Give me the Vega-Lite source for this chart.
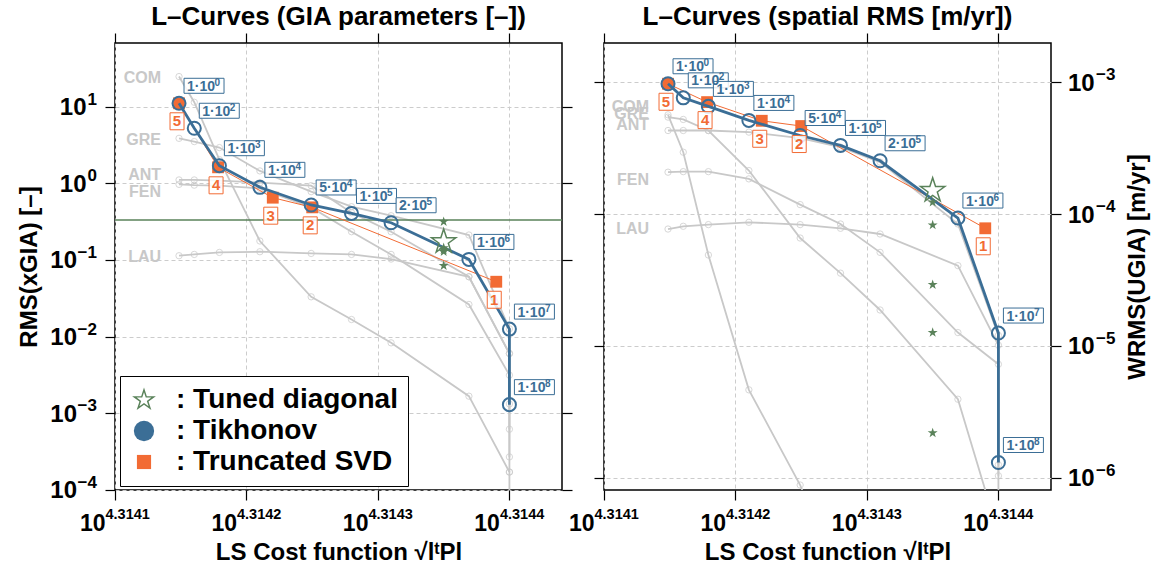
{
  "$schema": "https://vega.github.io/schema/vega-lite/v6.json",
  "padding": {"left": 16, "top": 3, "right": 5, "bottom": 3},
  "background": "white",
  "spacing": 42,
  "bounds": "flush",
  "config": {
    "font": "Liberation Sans",
    "view": {"stroke": "black", "strokeWidth": 1.5},
    "axis": {
      "domain": false, "labels": false,
      "tickColor": "black", "tickSize": 10, "tickWidth": 1.2,
      "titleFont": "Liberation Sans", "titleFontWeight": "bold", "titleColor": "black",
      "gridColor": "#cccccc", "gridDash": [4, 3], "gridWidth": 1
    },
    "text": {"font": "Liberation Sans", "fontWeight": "bold"},
    "title": {"fontSize": 26, "fontWeight": "bold", "font": "Liberation Sans", "color": "black", "anchor": "middle"}
  },
  "datasets": {
    "xticks": [
      {"v": 4.3141, "e": "4.3141"}, {"v": 4.3142, "e": "4.3142"}, {"v": 4.3143, "e": "4.3143"}, {"v": 4.3144, "e": "4.3144"}
    ],
    "yticksL": [
      {"v": 10, "e": "1"}, {"v": 1, "e": "0"}, {"v": 0.1, "e": "−1"}, {"v": 0.01, "e": "−2"}, {"v": 0.001, "e": "−3"}, {"v": 0.0001, "e": "−4"}
    ],
    "yticksR": [
      {"v": 0.001, "e": "−3"}, {"v": 0.0001, "e": "−4"}, {"v": 0.00001, "e": "−5"}, {"v": 0.000001, "e": "−6"}
    ],
    "tik": [
      {"panel": "L", "i": 1, "base": "1·10", "e": "0", "x": 4.3141487, "y": 11.1},
      {"panel": "L", "i": 2, "base": "1·10", "e": "2", "x": 4.3141603, "y": 5.24},
      {"panel": "L", "i": 3, "base": "1·10", "e": "3", "x": 4.3141794, "y": 1.70},
      {"panel": "L", "i": 4, "base": "1·10", "e": "4", "x": 4.3142102, "y": 0.887},
      {"panel": "L", "i": 5, "base": "5·10", "e": "4", "x": 4.3142492, "y": 0.522},
      {"panel": "L", "i": 6, "base": "1·10", "e": "5", "x": 4.3142799, "y": 0.405},
      {"panel": "L", "i": 7, "base": "2·10", "e": "5", "x": 4.3143100, "y": 0.306},
      {"panel": "L", "i": 8, "base": "1·10", "e": "6", "x": 4.3143692, "y": 0.1016},
      {"panel": "L", "i": 9, "base": "1·10", "e": "7", "x": 4.3144000, "y": 0.0125},
      {"panel": "L", "i": 10, "base": "1·10", "e": "8", "x": 4.3144000, "y": 0.00129},
      {"panel": "R", "i": 1, "base": "1·10", "e": "0", "x": 4.3141487, "y": 9.76e-4},
      {"panel": "R", "i": 2, "base": "1·10", "e": "2", "x": 4.3141603, "y": 7.63e-4},
      {"panel": "R", "i": 3, "base": "1·10", "e": "3", "x": 4.3141794, "y": 6.57e-4},
      {"panel": "R", "i": 4, "base": "1·10", "e": "4", "x": 4.3142102, "y": 5.14e-4},
      {"panel": "R", "i": 5, "base": "5·10", "e": "4", "x": 4.3142492, "y": 3.95e-4},
      {"panel": "R", "i": 6, "base": "1·10", "e": "5", "x": 4.3142799, "y": 3.32e-4},
      {"panel": "R", "i": 7, "base": "2·10", "e": "5", "x": 4.3143100, "y": 2.54e-4},
      {"panel": "R", "i": 8, "base": "1·10", "e": "6", "x": 4.3143692, "y": 9.33e-5},
      {"panel": "R", "i": 9, "base": "1·10", "e": "7", "x": 4.3144000, "y": 1.25e-5},
      {"panel": "R", "i": 10, "base": "1·10", "e": "8", "x": 4.3144000, "y": 1.30e-6}
    ],
    "tsvd": [
      {"panel": "L", "k": "5", "x": 4.3141487, "y": 11.1},
      {"panel": "L", "k": "4", "x": 4.3141784, "y": 1.62},
      {"panel": "L", "k": "3", "x": 4.3142200, "y": 0.650},
      {"panel": "L", "k": "2", "x": 4.3142500, "y": 0.486},
      {"panel": "L", "k": "1", "x": 4.3143900, "y": 0.0519},
      {"panel": "R", "k": "5", "x": 4.3141487, "y": 9.76e-4},
      {"panel": "R", "k": "4", "x": 4.3141784, "y": 7.08e-4},
      {"panel": "R", "k": "3", "x": 4.3142200, "y": 5.11e-4},
      {"panel": "R", "k": "2", "x": 4.3142500, "y": 4.66e-4},
      {"panel": "R", "k": "1", "x": 4.3143900, "y": 7.80e-5}
    ],
    "stars": [
      {"panel": "L", "kind": "total", "x": 4.31435, "y": 0.173},
      {"panel": "L", "kind": "region", "x": 4.31435, "y": 0.316},
      {"panel": "L", "kind": "region", "x": 4.31435, "y": 0.144},
      {"panel": "L", "kind": "region", "x": 4.31435, "y": 0.136},
      {"panel": "L", "kind": "region", "x": 4.31435, "y": 0.128},
      {"panel": "L", "kind": "region", "x": 4.31435, "y": 0.084},
      {"panel": "R", "kind": "total", "x": 4.31435, "y": 1.51e-4},
      {"panel": "R", "kind": "region", "x": 4.31435, "y": 1.23e-4},
      {"panel": "R", "kind": "region", "x": 4.31435, "y": 8.26e-5},
      {"panel": "R", "kind": "region", "x": 4.31435, "y": 2.91e-5},
      {"panel": "R", "kind": "region", "x": 4.31435, "y": 1.26e-5},
      {"panel": "R", "kind": "region", "x": 4.31435, "y": 2.18e-6}
    ],
    "regionLabels": [
      {"panel": "L", "region": "COM", "x": 4.3141487, "y": 24.1},
      {"panel": "L", "region": "GRE", "x": 4.3141487, "y": 3.65},
      {"panel": "L", "region": "ANT", "x": 4.3141487, "y": 1.288},
      {"panel": "L", "region": "FEN", "x": 4.3141487, "y": 0.779},
      {"panel": "L", "region": "LAU", "x": 4.3141487, "y": 0.110},
      {"panel": "R", "region": "COM", "x": 4.3141487, "y": 6.49e-4},
      {"panel": "R", "region": "GRE", "x": 4.3141487, "y": 5.74e-4},
      {"panel": "R", "region": "ANT", "x": 4.3141487, "y": 4.76e-4},
      {"panel": "R", "region": "FEN", "x": 4.3141487, "y": 1.83e-4},
      {"panel": "R", "region": "LAU", "x": 4.3141487, "y": 7.70e-5}
    ],
    "threshold": [{"y": 0.332}],
    "methods": [{"method": "Tuned diagonal"}, {"method": "Tikhonov"}, {"method": "Truncated SVD"}],
    "regions": [
      {"panel": "L", "region": "COM", "i": 1, "x": 4.3141487, "y": 24.8},
      {"panel": "L", "region": "COM", "i": 2, "x": 4.3141603, "y": 11.45},
      {"panel": "L", "region": "COM", "i": 3, "x": 4.3141794, "y": 2.04},
      {"panel": "L", "region": "COM", "i": 4, "x": 4.3142102, "y": 0.1767},
      {"panel": "L", "region": "COM", "i": 5, "x": 4.3142492, "y": 0.0330},
      {"panel": "L", "region": "COM", "i": 6, "x": 4.3142799, "y": 0.01668},
      {"panel": "L", "region": "COM", "i": 7, "x": 4.3143100, "y": 0.00827},
      {"panel": "L", "region": "COM", "i": 8, "x": 4.3143692, "y": 0.001663},
      {"panel": "L", "region": "COM", "i": 9, "x": 4.3144000, "y": 1.70e-4},
      {"panel": "L", "region": "COM", "i": 10, "x": 4.3144000, "y": 2.07e-5},
      {"panel": "L", "region": "GRE", "i": 1, "x": 4.3141487, "y": 3.87},
      {"panel": "L", "region": "GRE", "i": 2, "x": 4.3141603, "y": 3.51},
      {"panel": "L", "region": "GRE", "i": 3, "x": 4.3141794, "y": 2.93},
      {"panel": "L", "region": "GRE", "i": 4, "x": 4.3142102, "y": 1.453},
      {"panel": "L", "region": "GRE", "i": 5, "x": 4.3142492, "y": 0.779},
      {"panel": "L", "region": "GRE", "i": 6, "x": 4.3142799, "y": 0.496},
      {"panel": "L", "region": "GRE", "i": 7, "x": 4.3143100, "y": 0.378},
      {"panel": "L", "region": "GRE", "i": 8, "x": 4.3143692, "y": 0.2116},
      {"panel": "L", "region": "GRE", "i": 9, "x": 4.3144000, "y": 0.01261},
      {"panel": "L", "region": "GRE", "i": 10, "x": 4.3144000, "y": 0.001318},
      {"panel": "L", "region": "ANT", "i": 1, "x": 4.3141487, "y": 1.108},
      {"panel": "L", "region": "ANT", "i": 2, "x": 4.3141603, "y": 1.108},
      {"panel": "L", "region": "ANT", "i": 3, "x": 4.3141794, "y": 1.085},
      {"panel": "L", "region": "ANT", "i": 4, "x": 4.3142102, "y": 1.021},
      {"panel": "L", "region": "ANT", "i": 5, "x": 4.3142492, "y": 0.933},
      {"panel": "L", "region": "ANT", "i": 6, "x": 4.3142799, "y": 0.414},
      {"panel": "L", "region": "ANT", "i": 7, "x": 4.3143100, "y": 0.2336},
      {"panel": "L", "region": "ANT", "i": 8, "x": 4.3143692, "y": 0.0603},
      {"panel": "L", "region": "ANT", "i": 9, "x": 4.3144000, "y": 0.006},
      {"panel": "L", "region": "ANT", "i": 10, "x": 4.3144000, "y": 2.68e-4},
      {"panel": "L", "region": "FEN", "i": 1, "x": 4.3141487, "y": 0.970},
      {"panel": "L", "region": "FEN", "i": 2, "x": 4.3141603, "y": 0.947},
      {"panel": "L", "region": "FEN", "i": 3, "x": 4.3141794, "y": 0.933},
      {"panel": "L", "region": "FEN", "i": 4, "x": 4.3142102, "y": 0.860},
      {"panel": "L", "region": "FEN", "i": 5, "x": 4.3142492, "y": 0.4857},
      {"panel": "L", "region": "FEN", "i": 6, "x": 4.3142799, "y": 0.2336},
      {"panel": "L", "region": "FEN", "i": 7, "x": 4.3143100, "y": 0.118},
      {"panel": "L", "region": "FEN", "i": 8, "x": 4.3143692, "y": 0.0262},
      {"panel": "L", "region": "FEN", "i": 9, "x": 4.3144000, "y": 0.00313},
      {"panel": "L", "region": "FEN", "i": 10, "x": 4.3144000, "y": 1.70e-4},
      {"panel": "L", "region": "LAU", "i": 1, "x": 4.3141487, "y": 0.1135},
      {"panel": "L", "region": "LAU", "i": 2, "x": 4.3141603, "y": 0.118},
      {"panel": "L", "region": "LAU", "i": 3, "x": 4.3141794, "y": 0.1253},
      {"panel": "L", "region": "LAU", "i": 4, "x": 4.3142102, "y": 0.128},
      {"panel": "L", "region": "LAU", "i": 5, "x": 4.3142492, "y": 0.1216},
      {"panel": "L", "region": "LAU", "i": 6, "x": 4.3142799, "y": 0.118},
      {"panel": "L", "region": "LAU", "i": 7, "x": 4.3143100, "y": 0.1027},
      {"panel": "L", "region": "LAU", "i": 8, "x": 4.3143692, "y": 0.0603},
      {"panel": "L", "region": "LAU", "i": 9, "x": 4.3144000, "y": 0.006},
      {"panel": "L", "region": "LAU", "i": 10, "x": 4.3144000, "y": 6.16e-4},
      {"panel": "R", "region": "COM", "i": 1, "x": 4.3141487, "y": 5.67e-4},
      {"panel": "R", "region": "COM", "i": 2, "x": 4.3141603, "y": 2.95e-4},
      {"panel": "R", "region": "COM", "i": 3, "x": 4.3141794, "y": 4.89e-5},
      {"panel": "R", "region": "COM", "i": 4, "x": 4.3142102, "y": 4.63e-6},
      {"panel": "R", "region": "COM", "i": 5, "x": 4.3142492, "y": 8.77e-7},
      {"panel": "R", "region": "COM", "i": 6, "x": 4.3142799, "y": 1.5e-7},
      {"panel": "R", "region": "COM", "i": 7, "x": 4.3143100, "y": 5.0e-8},
      {"panel": "R", "region": "COM", "i": 8, "x": 4.3143692, "y": 1.0e-8},
      {"panel": "R", "region": "COM", "i": 9, "x": 4.3144000, "y": 2.0e-9},
      {"panel": "R", "region": "COM", "i": 10, "x": 4.3144000, "y": 1.0e-10},
      {"panel": "R", "region": "GRE", "i": 1, "x": 4.3141487, "y": 5.45e-4},
      {"panel": "R", "region": "GRE", "i": 2, "x": 4.3141603, "y": 5.23e-4},
      {"panel": "R", "region": "GRE", "i": 3, "x": 4.3141794, "y": 4.31e-4},
      {"panel": "R", "region": "GRE", "i": 4, "x": 4.3142102, "y": 2.14e-4},
      {"panel": "R", "region": "GRE", "i": 5, "x": 4.3142492, "y": 6.58e-5},
      {"panel": "R", "region": "GRE", "i": 6, "x": 4.3142799, "y": 3.56e-5},
      {"panel": "R", "region": "GRE", "i": 7, "x": 4.3143100, "y": 1.87e-5},
      {"panel": "R", "region": "GRE", "i": 8, "x": 4.3143692, "y": 3.93e-6},
      {"panel": "R", "region": "GRE", "i": 9, "x": 4.3144000, "y": 3.74e-7},
      {"panel": "R", "region": "GRE", "i": 10, "x": 4.3144000, "y": 4.0e-8},
      {"panel": "R", "region": "ANT", "i": 1, "x": 4.3141487, "y": 4.31e-4},
      {"panel": "R", "region": "ANT", "i": 2, "x": 4.3141603, "y": 4.31e-4},
      {"panel": "R", "region": "ANT", "i": 3, "x": 4.3141794, "y": 4.31e-4},
      {"panel": "R", "region": "ANT", "i": 4, "x": 4.3142102, "y": 4.19e-4},
      {"panel": "R", "region": "ANT", "i": 5, "x": 4.3142492, "y": 3.77e-4},
      {"panel": "R", "region": "ANT", "i": 6, "x": 4.3142799, "y": 3.22e-4},
      {"panel": "R", "region": "ANT", "i": 7, "x": 4.3143100, "y": 2.48e-4},
      {"panel": "R", "region": "ANT", "i": 8, "x": 4.3143692, "y": 8.41e-5},
      {"panel": "R", "region": "ANT", "i": 9, "x": 4.3144000, "y": 1.20e-5},
      {"panel": "R", "region": "ANT", "i": 10, "x": 4.3144000, "y": 1.25e-6},
      {"panel": "R", "region": "FEN", "i": 1, "x": 4.3141487, "y": 2.08e-4},
      {"panel": "R", "region": "FEN", "i": 2, "x": 4.3141603, "y": 2.10e-4},
      {"panel": "R", "region": "FEN", "i": 3, "x": 4.3141794, "y": 2.10e-4},
      {"panel": "R", "region": "FEN", "i": 4, "x": 4.3142102, "y": 1.85e-4},
      {"panel": "R", "region": "FEN", "i": 5, "x": 4.3142492, "y": 1.18e-4},
      {"panel": "R", "region": "FEN", "i": 6, "x": 4.3142799, "y": 8.41e-5},
      {"panel": "R", "region": "FEN", "i": 7, "x": 4.3143100, "y": 5.12e-5},
      {"panel": "R", "region": "FEN", "i": 8, "x": 4.3143692, "y": 1.26e-5},
      {"panel": "R", "region": "FEN", "i": 9, "x": 4.3144000, "y": 7.24e-6},
      {"panel": "R", "region": "FEN", "i": 10, "x": 4.3144000, "y": 2.0e-7},
      {"panel": "R", "region": "LAU", "i": 1, "x": 4.3141487, "y": 7.70e-5},
      {"panel": "R", "region": "LAU", "i": 2, "x": 4.3141603, "y": 8.08e-5},
      {"panel": "R", "region": "LAU", "i": 3, "x": 4.3141794, "y": 8.32e-5},
      {"panel": "R", "region": "LAU", "i": 4, "x": 4.3142102, "y": 8.66e-5},
      {"panel": "R", "region": "LAU", "i": 5, "x": 4.3142492, "y": 8.32e-5},
      {"panel": "R", "region": "LAU", "i": 6, "x": 4.3142799, "y": 7.80e-5},
      {"panel": "R", "region": "LAU", "i": 7, "x": 4.3143100, "y": 7.06e-5},
      {"panel": "R", "region": "LAU", "i": 8, "x": 4.3143692, "y": 4.06e-5},
      {"panel": "R", "region": "LAU", "i": 9, "x": 4.3144000, "y": 1.01e-5},
      {"panel": "R", "region": "LAU", "i": 10, "x": 4.3144000, "y": 1.03e-6}
    ]
  },
  "hconcat": [
    {
      "width": 447,
      "height": 447,
      "title": {"text": "L–Curves (GIA parameters [–])", "offset": 2},
      "resolve": {"axis": {"x": "independent", "y": "independent"}},
      "layer": [
        {
          "data": {"name": "regions"},
          "transform": [{"filter": "datum.panel === 'L'"}],
          "mark": {"type": "line", "color": "#c8c8c8", "strokeWidth": 1.8, "clip": true},
          "encoding": {
            "x": {"field": "x", "type": "quantitative", "scale": {"domain": [4.3141, 4.31444], "nice": false, "zero": false},
              "axis": {"orient": "bottom", "values": [4.3141, 4.3142, 4.3143, 4.3144], "grid": true,
                "title": "LS Cost function √lᵗPl", "titleFontSize": 24, "titlePadding": 40}},
            "y": {"field": "y", "type": "quantitative", "scale": {"type": "log", "domain": [0.0000991, 68], "nice": false},
              "axis": {"orient": "left", "values": [10, 1, 0.1, 0.01, 0.001, 0.0001], "grid": true,
                "title": "RMS(xGIA) [–]", "titleFontSize": 24, "titlePadding": 63}},
            "detail": {"field": "region"},
            "order": {"field": "i"}
          }
        },
        {
          "data": {"name": "regions"},
          "transform": [{"filter": "datum.panel === 'L'"}],
          "mark": {"type": "point", "shape": "circle", "filled": false, "color": "#c8c8c8", "size": 40, "strokeWidth": 1, "clip": true},
          "encoding": {
            "x": {"field": "x", "type": "quantitative", "scale": {"domain": [4.3141, 4.31444], "nice": false, "zero": false}, "axis": null},
            "y": {"field": "y", "type": "quantitative", "scale": {"type": "log", "domain": [0.0000991, 68], "nice": false}, "axis": null}
          }
        },
        {
          "data": {"name": "regionLabels"},
          "transform": [{"filter": "datum.panel === 'L'"}],
          "mark": {"type": "text", "align": "right", "baseline": "middle", "dx": -18, "fontSize": 16, "color": "#c8c8c8"},
          "encoding": {
            "x": {"field": "x", "type": "quantitative", "scale": {"domain": [4.3141, 4.31444], "nice": false, "zero": false}, "axis": null},
            "y": {"field": "y", "type": "quantitative", "scale": {"type": "log", "domain": [0.0000991, 68], "nice": false}, "axis": null},
            "text": {"field": "region"}
          }
        },
        {
          "data": {"name": "threshold"},
          "mark": {"type": "rule", "color": "#5a825a", "strokeWidth": 1.5},
          "encoding": {
            "y": {"field": "y", "type": "quantitative", "scale": {"type": "log", "domain": [0.0000991, 68], "nice": false}, "axis": null}
          }
        },
        {
          "data": {"name": "tsvd"},
          "transform": [{"filter": "datum.panel === 'L'"}],
          "mark": {"type": "line", "color": "#f26b34", "strokeWidth": 1, "clip": true},
          "encoding": {
            "x": {"field": "x", "type": "quantitative", "scale": {"domain": [4.3141, 4.31444], "nice": false, "zero": false}, "axis": null},
            "y": {"field": "y", "type": "quantitative", "scale": {"type": "log", "domain": [0.0000991, 68], "nice": false}, "axis": null},
            "order": {"field": "x"}
          }
        },
        {
          "data": {"name": "tsvd"},
          "transform": [{"filter": "datum.panel === 'L'"}],
          "mark": {"type": "point", "shape": "square", "filled": true, "color": "#f26b34", "size": 140, "opacity": 1},
          "encoding": {
            "x": {"field": "x", "type": "quantitative", "scale": {"domain": [4.3141, 4.31444], "nice": false, "zero": false}, "axis": null},
            "y": {"field": "y", "type": "quantitative", "scale": {"type": "log", "domain": [0.0000991, 68], "nice": false}, "axis": null}
          }
        },
        {
          "data": {"name": "tik"},
          "transform": [{"filter": "datum.panel === 'L'"}],
          "mark": {"type": "line", "color": "#3b6e96", "strokeWidth": 2.8},
          "encoding": {
            "x": {"field": "x", "type": "quantitative", "scale": {"domain": [4.3141, 4.31444], "nice": false, "zero": false}, "axis": null},
            "y": {"field": "y", "type": "quantitative", "scale": {"type": "log", "domain": [0.0000991, 68], "nice": false}, "axis": null},
            "order": {"field": "i"}
          }
        },
        {
          "data": {"name": "tik"},
          "transform": [{"filter": "datum.panel === 'L'"}],
          "mark": {"type": "point", "shape": "circle", "filled": false, "color": "#3b6e96", "size": 170, "strokeWidth": 2, "opacity": 1},
          "encoding": {
            "x": {"field": "x", "type": "quantitative", "scale": {"domain": [4.3141, 4.31444], "nice": false, "zero": false},
              "axis": {"orient": "top", "values": [4.3141, 4.3142, 4.3143, 4.3144], "grid": false, "title": null}},
            "y": {"field": "y", "type": "quantitative", "scale": {"type": "log", "domain": [0.0000991, 68], "nice": false},
              "axis": {"orient": "right", "values": [10, 1, 0.1, 0.01, 0.001, 0.0001], "grid": false, "title": null}}
          }
        },
        {
          "data": {"name": "stars"},
          "transform": [{"filter": "datum.panel === 'L' && datum.kind === 'region'"}],
          "mark": {"type": "point", "shape": "M0,-1L0.2245,-0.309L0.9511,-0.309L0.3633,0.118L0.5878,0.809L0,0.382L-0.5878,0.809L-0.3633,0.118L-0.9511,-0.309L-0.2245,-0.309Z", "filled": true, "color": "#5a825a", "size": 110, "opacity": 1},
          "encoding": {
            "x": {"field": "x", "type": "quantitative", "scale": {"domain": [4.3141, 4.31444], "nice": false, "zero": false}, "axis": null},
            "y": {"field": "y", "type": "quantitative", "scale": {"type": "log", "domain": [0.0000991, 68], "nice": false}, "axis": null}
          }
        },
        {
          "data": {"name": "stars"},
          "transform": [{"filter": "datum.panel === 'L' && datum.kind === 'total'"}],
          "mark": {"type": "point", "shape": "M0,-1L0.2245,-0.309L0.9511,-0.309L0.3633,0.118L0.5878,0.809L0,0.382L-0.5878,0.809L-0.3633,0.118L-0.9511,-0.309L-0.2245,-0.309Z", "filled": false, "color": "#5a825a", "size": 650, "strokeWidth": 1.5, "opacity": 1},
          "encoding": {
            "x": {"field": "x", "type": "quantitative", "scale": {"domain": [4.3141, 4.31444], "nice": false, "zero": false}, "axis": null},
            "y": {"field": "y", "type": "quantitative", "scale": {"type": "log", "domain": [0.0000991, 68], "nice": false}, "axis": null}
          }
        },
        {
          "data": {"name": "tik"},
          "transform": [{"filter": "datum.panel === 'L'"}],
          "mark": {"type": "point", "shape": "M1,-5H9V-2H1Z", "filled": true, "fill": "white", "fillOpacity": 0.85, "stroke": "#3b6e96", "strokeWidth": 1, "size": 100, "opacity": 1},
          "encoding": {
            "x": {"field": "x", "type": "quantitative", "scale": {"domain": [4.3141, 4.31444], "nice": false, "zero": false}, "axis": null},
            "y": {"field": "y", "type": "quantitative", "scale": {"type": "log", "domain": [0.0000991, 68], "nice": false}, "axis": null}
          }
        },
        {
          "data": {"name": "tik"},
          "transform": [{"filter": "datum.panel === 'L'"}],
          "mark": {"type": "text", "align": "left", "baseline": "alphabetic", "dx": 8, "dy": -12.5, "fontSize": 14, "color": "#3b6e96"},
          "encoding": {
            "x": {"field": "x", "type": "quantitative", "scale": {"domain": [4.3141, 4.31444], "nice": false, "zero": false}, "axis": null},
            "y": {"field": "y", "type": "quantitative", "scale": {"type": "log", "domain": [0.0000991, 68], "nice": false}, "axis": null},
            "text": {"field": "base"}
          }
        },
        {
          "data": {"name": "tik"},
          "transform": [{"filter": "datum.panel === 'L'"}],
          "mark": {"type": "text", "align": "left", "baseline": "alphabetic", "dx": 35.5, "dy": -17.5, "fontSize": 10, "color": "#3b6e96"},
          "encoding": {
            "x": {"field": "x", "type": "quantitative", "scale": {"domain": [4.3141, 4.31444], "nice": false, "zero": false}, "axis": null},
            "y": {"field": "y", "type": "quantitative", "scale": {"type": "log", "domain": [0.0000991, 68], "nice": false}, "axis": null},
            "text": {"field": "e"}
          }
        },
        {
          "data": {"name": "tsvd"},
          "transform": [{"filter": "datum.panel === 'L'"}],
          "mark": {"type": "point", "shape": "M-1.8,1.9H1V5.3H-1.8Z", "filled": true, "fill": "white", "fillOpacity": 0.85, "stroke": "#f26b34", "strokeWidth": 1, "size": 100, "opacity": 1},
          "encoding": {
            "x": {"field": "x", "type": "quantitative", "scale": {"domain": [4.3141, 4.31444], "nice": false, "zero": false}, "axis": null},
            "y": {"field": "y", "type": "quantitative", "scale": {"type": "log", "domain": [0.0000991, 68], "nice": false}, "axis": null}
          }
        },
        {
          "data": {"name": "tsvd"},
          "transform": [{"filter": "datum.panel === 'L'"}],
          "mark": {"type": "text", "align": "center", "baseline": "middle", "dx": -2, "dy": 18, "fontSize": 15, "color": "#f26b34"},
          "encoding": {
            "x": {"field": "x", "type": "quantitative", "scale": {"domain": [4.3141, 4.31444], "nice": false, "zero": false}, "axis": null},
            "y": {"field": "y", "type": "quantitative", "scale": {"type": "log", "domain": [0.0000991, 68], "nice": false}, "axis": null},
            "text": {"field": "k"}
          }
        },
        {
          "data": {"name": "xticks"},
          "mark": {"type": "text", "align": "right", "baseline": "alphabetic", "dx": -9.5, "dy": 41, "fontSize": 23, "color": "black"},
          "encoding": {
            "x": {"field": "v", "type": "quantitative", "scale": {"domain": [4.3141, 4.31444], "nice": false, "zero": false}, "axis": null},
            "y": {"datum": 0.0000991, "type": "quantitative", "scale": {"type": "log", "domain": [0.0000991, 68], "nice": false}, "axis": null},
            "text": {"value": "10"}
          }
        },
        {
          "data": {"name": "xticks"},
          "mark": {"type": "text", "align": "left", "baseline": "alphabetic", "dx": -9.5, "dy": 29, "fontSize": 14.5, "color": "black"},
          "encoding": {
            "x": {"field": "v", "type": "quantitative", "scale": {"domain": [4.3141, 4.31444], "nice": false, "zero": false}, "axis": null},
            "y": {"datum": 0.0000991, "type": "quantitative", "scale": {"type": "log", "domain": [0.0000991, 68], "nice": false}, "axis": null},
            "text": {"field": "e"}
          }
        },
        {
          "data": {"name": "yticksL"},
          "transform": [{"filter": "length(datum.e) === 1"}],
          "mark": {"type": "text", "align": "right", "baseline": "alphabetic", "dx": -28.5, "dy": 8.5, "fontSize": 24, "color": "black"},
          "encoding": {
            "x": {"datum": 4.3141, "type": "quantitative", "scale": {"domain": [4.3141, 4.31444], "nice": false, "zero": false}, "axis": null},
            "y": {"field": "v", "type": "quantitative", "scale": {"type": "log", "domain": [0.0000991, 68], "nice": false}, "axis": null},
            "text": {"value": "10"}
          }
        },
        {
          "data": {"name": "yticksL"},
          "transform": [{"filter": "length(datum.e) === 2"}],
          "mark": {"type": "text", "align": "right", "baseline": "alphabetic", "dx": -38, "dy": 8.5, "fontSize": 24, "color": "black"},
          "encoding": {
            "x": {"datum": 4.3141, "type": "quantitative", "scale": {"domain": [4.3141, 4.31444], "nice": false, "zero": false}, "axis": null},
            "y": {"field": "v", "type": "quantitative", "scale": {"type": "log", "domain": [0.0000991, 68], "nice": false}, "axis": null},
            "text": {"value": "10"}
          }
        },
        {
          "data": {"name": "yticksL"},
          "mark": {"type": "text", "align": "right", "baseline": "alphabetic", "dx": -18, "dy": -2, "fontSize": 17, "color": "black"},
          "encoding": {
            "x": {"datum": 4.3141, "type": "quantitative", "scale": {"domain": [4.3141, 4.31444], "nice": false, "zero": false}, "axis": null},
            "y": {"field": "v", "type": "quantitative", "scale": {"type": "log", "domain": [0.0000991, 68], "nice": false}, "axis": null},
            "text": {"field": "e"}
          }
        },
        {
          "data": {"name": "methods"},
          "mark": {"type": "point", "opacity": 0, "filled": true},
          "encoding": {
            "color": {"field": "method", "type": "nominal",
              "scale": {"domain": ["Tuned diagonal", "Tikhonov", "Truncated SVD"], "range": ["#5a825a", "#3b6e96", "#f26b34"]},
              "legend": {"orient": "none", "legendX": 5, "legendY": 333, "title": null, "strokeColor": "black", "fillColor": "white", "padding": 10, "labelFontSize": 28, "labelFontWeight": "bold", "labelFont": "Liberation Sans", "labelColor": "black", "labelOffset": 18, "labelLimit": 0, "rowPadding": 3, "symbolOpacity": 1, "labelExpr": "': ' + datum.label", "cornerRadius": 0}},
            "shape": {"field": "method", "type": "nominal",
              "scale": {"domain": ["Tuned diagonal", "Tikhonov", "Truncated SVD"], "range": ["M0,-1L0.2245,-0.309L0.9511,-0.309L0.3633,0.118L0.5878,0.809L0,0.382L-0.5878,0.809L-0.3633,0.118L-0.9511,-0.309L-0.2245,-0.309ZM0,-0.62L-0.1392,-0.1916L-0.5897,-0.1916L-0.2252,0.0732L-0.3644,0.5016L0,0.2368L0.3644,0.5016L0.2252,0.0732L0.5897,-0.1916L0.1392,-0.1916Z", "circle", "square"]},
              "legend": {"orient": "none", "legendX": 5, "legendY": 333, "title": null, "strokeColor": "black", "fillColor": "white", "padding": 10, "labelFontSize": 28, "labelFontWeight": "bold", "labelFont": "Liberation Sans", "labelColor": "black", "labelOffset": 18, "labelLimit": 0, "rowPadding": 3, "symbolOpacity": 1, "labelExpr": "': ' + datum.label", "cornerRadius": 0}},
            "size": {"field": "method", "type": "nominal",
              "scale": {"domain": ["Tuned diagonal", "Tikhonov", "Truncated SVD"], "range": [625, 200, 150]},
              "legend": {"orient": "none", "legendX": 5, "legendY": 333, "title": null, "strokeColor": "black", "fillColor": "white", "padding": 10, "labelFontSize": 28, "labelFontWeight": "bold", "labelFont": "Liberation Sans", "labelColor": "black", "labelOffset": 18, "labelLimit": 0, "rowPadding": 3, "symbolOpacity": 1, "labelExpr": "': ' + datum.label", "cornerRadius": 0}}
          }
        }
      ]
    },
    {
      "width": 447,
      "height": 447,
      "title": {"text": "L–Curves (spatial RMS [m/yr])", "offset": 2},
      "resolve": {"axis": {"x": "independent", "y": "independent"}},
      "layer": [
        {
          "data": {"name": "regions"},
          "transform": [{"filter": "datum.panel === 'R'"}],
          "mark": {"type": "line", "color": "#c8c8c8", "strokeWidth": 1.8, "clip": true},
          "encoding": {
            "x": {"field": "x", "type": "quantitative", "scale": {"domain": [4.3141, 4.31444], "nice": false, "zero": false},
              "axis": {"orient": "bottom", "values": [4.3141, 4.3142, 4.3143, 4.3144], "grid": true,
                "title": "LS Cost function √lᵗPl", "titleFontSize": 24, "titlePadding": 40}},
            "y": {"field": "y", "type": "quantitative", "scale": {"type": "log", "domain": [8.04e-7, 1.99e-3], "nice": false},
              "axis": {"orient": "right", "values": [0.001, 0.0001, 0.00001, 0.000001], "grid": true,
                "title": "WRMS(UGIA) [m/yr]", "titleFontSize": 24, "titlePadding": 64, "titleAngle": 270, "titleBaseline": "top"}},
            "detail": {"field": "region"},
            "order": {"field": "i"}
          }
        },
        {
          "data": {"name": "regions"},
          "transform": [{"filter": "datum.panel === 'R'"}],
          "mark": {"type": "point", "shape": "circle", "filled": false, "color": "#c8c8c8", "size": 40, "strokeWidth": 1, "clip": true},
          "encoding": {
            "x": {"field": "x", "type": "quantitative", "scale": {"domain": [4.3141, 4.31444], "nice": false, "zero": false}, "axis": null},
            "y": {"field": "y", "type": "quantitative", "scale": {"type": "log", "domain": [8.04e-7, 1.99e-3], "nice": false}, "axis": null}
          }
        },
        {
          "data": {"name": "regionLabels"},
          "transform": [{"filter": "datum.panel === 'R'"}],
          "mark": {"type": "text", "align": "right", "baseline": "middle", "dx": -19, "fontSize": 16, "color": "#c8c8c8"},
          "encoding": {
            "x": {"field": "x", "type": "quantitative", "scale": {"domain": [4.3141, 4.31444], "nice": false, "zero": false}, "axis": null},
            "y": {"field": "y", "type": "quantitative", "scale": {"type": "log", "domain": [8.04e-7, 1.99e-3], "nice": false}, "axis": null},
            "text": {"field": "region"}
          }
        },
        {
          "data": {"name": "tsvd"},
          "transform": [{"filter": "datum.panel === 'R'"}],
          "mark": {"type": "line", "color": "#f26b34", "strokeWidth": 1, "clip": true},
          "encoding": {
            "x": {"field": "x", "type": "quantitative", "scale": {"domain": [4.3141, 4.31444], "nice": false, "zero": false}, "axis": null},
            "y": {"field": "y", "type": "quantitative", "scale": {"type": "log", "domain": [8.04e-7, 1.99e-3], "nice": false}, "axis": null},
            "order": {"field": "x"}
          }
        },
        {
          "data": {"name": "tsvd"},
          "transform": [{"filter": "datum.panel === 'R'"}],
          "mark": {"type": "point", "shape": "square", "filled": true, "color": "#f26b34", "size": 140, "opacity": 1},
          "encoding": {
            "x": {"field": "x", "type": "quantitative", "scale": {"domain": [4.3141, 4.31444], "nice": false, "zero": false}, "axis": null},
            "y": {"field": "y", "type": "quantitative", "scale": {"type": "log", "domain": [8.04e-7, 1.99e-3], "nice": false}, "axis": null}
          }
        },
        {
          "data": {"name": "tik"},
          "transform": [{"filter": "datum.panel === 'R'"}],
          "mark": {"type": "line", "color": "#3b6e96", "strokeWidth": 2.8},
          "encoding": {
            "x": {"field": "x", "type": "quantitative", "scale": {"domain": [4.3141, 4.31444], "nice": false, "zero": false}, "axis": null},
            "y": {"field": "y", "type": "quantitative", "scale": {"type": "log", "domain": [8.04e-7, 1.99e-3], "nice": false}, "axis": null},
            "order": {"field": "i"}
          }
        },
        {
          "data": {"name": "tik"},
          "transform": [{"filter": "datum.panel === 'R'"}],
          "mark": {"type": "point", "shape": "circle", "filled": false, "color": "#3b6e96", "size": 170, "strokeWidth": 2, "opacity": 1},
          "encoding": {
            "x": {"field": "x", "type": "quantitative", "scale": {"domain": [4.3141, 4.31444], "nice": false, "zero": false},
              "axis": {"orient": "top", "values": [4.3141, 4.3142, 4.3143, 4.3144], "grid": false, "title": null}},
            "y": {"field": "y", "type": "quantitative", "scale": {"type": "log", "domain": [8.04e-7, 1.99e-3], "nice": false},
              "axis": {"orient": "left", "values": [0.001, 0.0001, 0.00001, 0.000001], "grid": false, "title": null}}
          }
        },
        {
          "data": {"name": "stars"},
          "transform": [{"filter": "datum.panel === 'R' && datum.kind === 'region'"}],
          "mark": {"type": "point", "shape": "M0,-1L0.2245,-0.309L0.9511,-0.309L0.3633,0.118L0.5878,0.809L0,0.382L-0.5878,0.809L-0.3633,0.118L-0.9511,-0.309L-0.2245,-0.309Z", "filled": true, "color": "#5a825a", "size": 110, "opacity": 1},
          "encoding": {
            "x": {"field": "x", "type": "quantitative", "scale": {"domain": [4.3141, 4.31444], "nice": false, "zero": false}, "axis": null},
            "y": {"field": "y", "type": "quantitative", "scale": {"type": "log", "domain": [8.04e-7, 1.99e-3], "nice": false}, "axis": null}
          }
        },
        {
          "data": {"name": "stars"},
          "transform": [{"filter": "datum.panel === 'R' && datum.kind === 'total'"}],
          "mark": {"type": "point", "shape": "M0,-1L0.2245,-0.309L0.9511,-0.309L0.3633,0.118L0.5878,0.809L0,0.382L-0.5878,0.809L-0.3633,0.118L-0.9511,-0.309L-0.2245,-0.309Z", "filled": false, "color": "#5a825a", "size": 650, "strokeWidth": 1.5, "opacity": 1},
          "encoding": {
            "x": {"field": "x", "type": "quantitative", "scale": {"domain": [4.3141, 4.31444], "nice": false, "zero": false}, "axis": null},
            "y": {"field": "y", "type": "quantitative", "scale": {"type": "log", "domain": [8.04e-7, 1.99e-3], "nice": false}, "axis": null}
          }
        },
        {
          "data": {"name": "tik"},
          "transform": [{"filter": "datum.panel === 'R'"}],
          "mark": {"type": "point", "shape": "M1,-5H9V-2H1Z", "filled": true, "fill": "white", "fillOpacity": 0.85, "stroke": "#3b6e96", "strokeWidth": 1, "size": 100, "opacity": 1},
          "encoding": {
            "x": {"field": "x", "type": "quantitative", "scale": {"domain": [4.3141, 4.31444], "nice": false, "zero": false}, "axis": null},
            "y": {"field": "y", "type": "quantitative", "scale": {"type": "log", "domain": [8.04e-7, 1.99e-3], "nice": false}, "axis": null}
          }
        },
        {
          "data": {"name": "tik"},
          "transform": [{"filter": "datum.panel === 'R'"}],
          "mark": {"type": "text", "align": "left", "baseline": "alphabetic", "dx": 8, "dy": -12.5, "fontSize": 14, "color": "#3b6e96"},
          "encoding": {
            "x": {"field": "x", "type": "quantitative", "scale": {"domain": [4.3141, 4.31444], "nice": false, "zero": false}, "axis": null},
            "y": {"field": "y", "type": "quantitative", "scale": {"type": "log", "domain": [8.04e-7, 1.99e-3], "nice": false}, "axis": null},
            "text": {"field": "base"}
          }
        },
        {
          "data": {"name": "tik"},
          "transform": [{"filter": "datum.panel === 'R'"}],
          "mark": {"type": "text", "align": "left", "baseline": "alphabetic", "dx": 35.5, "dy": -17.5, "fontSize": 10, "color": "#3b6e96"},
          "encoding": {
            "x": {"field": "x", "type": "quantitative", "scale": {"domain": [4.3141, 4.31444], "nice": false, "zero": false}, "axis": null},
            "y": {"field": "y", "type": "quantitative", "scale": {"type": "log", "domain": [8.04e-7, 1.99e-3], "nice": false}, "axis": null},
            "text": {"field": "e"}
          }
        },
        {
          "data": {"name": "tsvd"},
          "transform": [{"filter": "datum.panel === 'R'"}],
          "mark": {"type": "point", "shape": "M-1.8,1.9H1V5.3H-1.8Z", "filled": true, "fill": "white", "fillOpacity": 0.85, "stroke": "#f26b34", "strokeWidth": 1, "size": 100, "opacity": 1},
          "encoding": {
            "x": {"field": "x", "type": "quantitative", "scale": {"domain": [4.3141, 4.31444], "nice": false, "zero": false}, "axis": null},
            "y": {"field": "y", "type": "quantitative", "scale": {"type": "log", "domain": [8.04e-7, 1.99e-3], "nice": false}, "axis": null}
          }
        },
        {
          "data": {"name": "tsvd"},
          "transform": [{"filter": "datum.panel === 'R'"}],
          "mark": {"type": "text", "align": "center", "baseline": "middle", "dx": -2, "dy": 18, "fontSize": 15, "color": "#f26b34"},
          "encoding": {
            "x": {"field": "x", "type": "quantitative", "scale": {"domain": [4.3141, 4.31444], "nice": false, "zero": false}, "axis": null},
            "y": {"field": "y", "type": "quantitative", "scale": {"type": "log", "domain": [8.04e-7, 1.99e-3], "nice": false}, "axis": null},
            "text": {"field": "k"}
          }
        },
        {
          "data": {"name": "xticks"},
          "mark": {"type": "text", "align": "right", "baseline": "alphabetic", "dx": -9.5, "dy": 41, "fontSize": 23, "color": "black"},
          "encoding": {
            "x": {"field": "v", "type": "quantitative", "scale": {"domain": [4.3141, 4.31444], "nice": false, "zero": false}, "axis": null},
            "y": {"datum": 8.04e-7, "type": "quantitative", "scale": {"type": "log", "domain": [8.04e-7, 1.99e-3], "nice": false}, "axis": null},
            "text": {"value": "10"}
          }
        },
        {
          "data": {"name": "xticks"},
          "mark": {"type": "text", "align": "left", "baseline": "alphabetic", "dx": -9.5, "dy": 29, "fontSize": 14.5, "color": "black"},
          "encoding": {
            "x": {"field": "v", "type": "quantitative", "scale": {"domain": [4.3141, 4.31444], "nice": false, "zero": false}, "axis": null},
            "y": {"datum": 8.04e-7, "type": "quantitative", "scale": {"type": "log", "domain": [8.04e-7, 1.99e-3], "nice": false}, "axis": null},
            "text": {"field": "e"}
          }
        },
        {
          "data": {"name": "yticksR"},
          "mark": {"type": "text", "align": "left", "baseline": "alphabetic", "dx": 17, "dy": 8.5, "fontSize": 24, "color": "black"},
          "encoding": {
            "x": {"datum": 4.31444, "type": "quantitative", "scale": {"domain": [4.3141, 4.31444], "nice": false, "zero": false}, "axis": null},
            "y": {"field": "v", "type": "quantitative", "scale": {"type": "log", "domain": [8.04e-7, 1.99e-3], "nice": false}, "axis": null},
            "text": {"value": "10"}
          }
        },
        {
          "data": {"name": "yticksR"},
          "mark": {"type": "text", "align": "left", "baseline": "alphabetic", "dx": 45, "dy": -2, "fontSize": 17, "color": "black"},
          "encoding": {
            "x": {"datum": 4.31444, "type": "quantitative", "scale": {"domain": [4.3141, 4.31444], "nice": false, "zero": false}, "axis": null},
            "y": {"field": "v", "type": "quantitative", "scale": {"type": "log", "domain": [8.04e-7, 1.99e-3], "nice": false}, "axis": null},
            "text": {"field": "e"}
          }
        }
      ]
    }
  ]
}
